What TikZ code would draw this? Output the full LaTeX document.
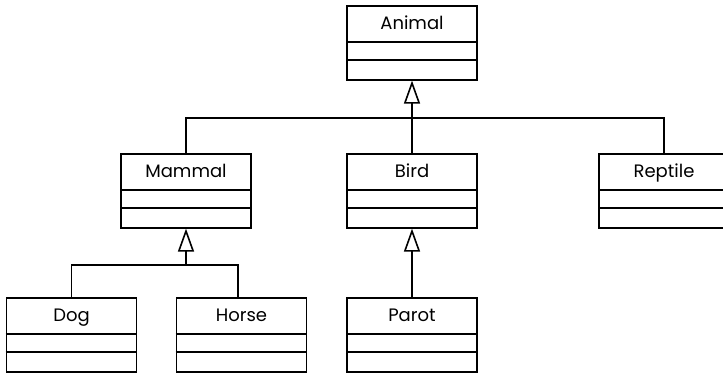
\documentclass[tikz,border=0pt]{standalone}
\usepackage{fontspec}
\setmainfont{Poppins}
\usetikzlibrary{arrows.meta}
\tikzset{
  lw/.style={line width=1.6pt},
  classbox/.style={draw, lw, minimum width=130pt, minimum height=74pt, anchor=north, inner sep=0pt},
  classname/.style={anchor=base, inner sep=0pt, font=\fontsize{18}{20}\selectfont},
  conn/.style={lw},
  inherit/.style={lw, -{Triangle[open, length=23pt, width=16pt, line width=1.6pt]}}
}
\newcommand{\umlclass}[4]{%
  \node[classbox] (#1) at (#2pt,#3pt) {};
  \draw[lw] ([yshift=-37pt]#1.north west) -- ([yshift=-37pt]#1.north east);
  \draw[lw] ([yshift=-55pt]#1.north west) -- ([yshift=-55pt]#1.north east);
  \node[classname] (#1-name) at ([yshift=-24pt]#1.north) {#4};
}
\begin{document}
\begin{tikzpicture}[x=1pt,y=1pt]
\useasboundingbox (0,0) rectangle (723,-373);
\umlclass{animal}{412}{-5}{Animal}
\umlclass{mammal}{186}{-153}{Mammal}
\umlclass{bird}{412}{-153}{Bird}
\umlclass{reptile}{664}{-153}{Reptile}
\umlclass{dog}{71.5}{-297}{Dog}
\umlclass{horse}{241.5}{-297}{Horse}
\umlclass{parot}{412}{-297}{Parot}
% Animal hierarchy
\coordinate (abus) at (412,-118);
\draw[inherit] (bird.north) -- (animal.south);
\draw[conn] (mammal.north) |- (abus) -| (reptile.north);
% Mammal hierarchy
\coordinate (mbus) at (186,-265);
\coordinate (horsein) at ([xshift=-3.5pt]horse.north);
\draw[inherit] (mbus) -- (mammal.south);
\draw[conn] (dog.north) |- (mbus) -| (horsein);
% Bird hierarchy
\draw[inherit] (parot.north) -- (bird.south);
\end{tikzpicture}
\end{document}
